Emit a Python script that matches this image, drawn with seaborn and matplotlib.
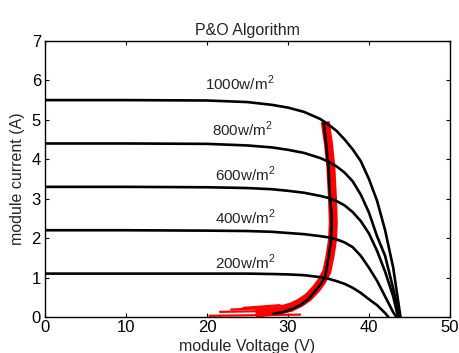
import matplotlib
matplotlib.use("Agg")
import matplotlib.pyplot as plt
import seaborn as sns

# ---- data ----
v1000 = [0, 10, 20, 25, 28, 30, 32, 34, 35, 36, 37, 38, 39, 40, 41, 42, 43, 43.9]
i1000 = [5.50, 5.50, 5.49, 5.45, 5.38, 5.31, 5.20, 5.02, 4.88, 4.72, 4.50, 4.25, 3.95, 3.50, 2.95, 2.20, 1.25, 0.0]
v800 = [0, 10, 20, 25, 28, 30, 32, 34, 35, 36, 37, 38, 39, 40, 41, 42, 43, 43.8]
i800 = [4.40, 4.40, 4.39, 4.35, 4.30, 4.24, 4.16, 4.03, 3.94, 3.82, 3.66, 3.44, 3.10, 2.65, 2.05, 1.55, 0.72, 0.0]
v600 = [0, 10, 20, 25, 28, 30, 32, 34, 35, 36, 37, 38, 39, 40, 41, 42, 43, 43.6]
i600 = [3.30, 3.30, 3.29, 3.27, 3.24, 3.20, 3.15, 3.07, 3.02, 2.94, 2.83, 2.66, 2.43, 2.12, 1.68, 1.15, 0.52, 0.0]
v400 = [0, 10, 20, 25, 28, 30, 32, 34, 35, 36, 37, 38, 39, 40, 41, 42, 43, 43.4]
i400 = [2.20, 2.20, 2.19, 2.18, 2.16, 2.13, 2.10, 2.05, 2.02, 1.97, 1.89, 1.77, 1.55, 1.25, 0.92, 0.52, 0.12, 0.0]
v200 = [0, 10, 20, 25, 28, 30, 32, 34, 35, 36, 37, 38, 39, 40, 41, 42, 42.4]
i200 = [1.10, 1.10, 1.10, 1.10, 1.09, 1.08, 1.06, 1.01, 0.97, 0.91, 0.84, 0.74, 0.61, 0.45, 0.30, 0.10, 0.0]

# maximum power point locus (black)
mpp_v = [28.2, 29.5, 30.5, 31.5, 32.5, 33.5, 34.1, 34.6, 35.0, 35.3, 35.4, 35.4, 35.2, 35.0, 34.7, 34.4]
mpp_i = [0.08, 0.13, 0.20, 0.30, 0.45, 0.69, 0.85, 1.02, 1.50, 1.90, 2.30, 2.60, 3.00, 3.80, 4.40, 4.96]
# P&O tracking trajectory (red), main oscillation band
po_v = [26.0, 28.0, 29.5, 30.5, 31.5, 32.5, 33.5, 34.2, 34.8, 35.2, 35.5, 35.6, 35.5, 35.3, 35.0, 34.6]
po_i = [0.10, 0.14, 0.20, 0.26, 0.36, 0.50, 0.72, 0.92, 1.15, 1.55, 1.95, 2.40, 3.00, 3.80, 4.40, 4.95]
# oscillation streaks of the P&O trajectory near zero current
tail_v = [[20.3, 31.5], [21.6, 30.5], [23.0, 29.5], [24.5, 29.0]]
tail_i = [[0.03, 0.06], [0.13, 0.16], [0.19, 0.24], [0.23, 0.30]]

labels = ["1000w/m$^2$", "800w/m$^2$", "600w/m$^2$", "400w/m$^2$", "200w/m$^2$"]
label_v = [19.8, 20.6, 21.0, 21.0, 21.0]
label_i = [5.92, 4.77, 3.62, 2.52, 1.38]

xticks = [0, 10, 20, 30, 40, 50]
yticks = [0, 1, 2, 3, 4, 5, 6, 7]

# ---- plot ----
sns.set_style("white")
plt.rcParams["font.family"] = ["Liberation Sans", "DejaVu Sans"]
plt.rcParams["mathtext.fontset"] = "custom"
plt.rcParams["mathtext.rm"] = "Liberation Sans"

fig = plt.figure(figsize=(4.6, 3.53), dpi=100)
ax = fig.add_axes([0.098, 0.102, 0.880, 0.782])

# red P&O trajectory
for tv, ti in zip(tail_v, tail_i):
    sns.lineplot(x=tv, y=ti, sort=False, ax=ax, color="#ff0000", linewidth=1.6, estimator=None)
sns.lineplot(x=po_v, y=po_i, sort=False, ax=ax, color="#ff0000", linewidth=6.5, estimator=None)
ax.lines[-1].set_solid_capstyle("butt")

for v, i in [(v1000, i1000), (v800, i800), (v600, i600), (v400, i400), (v200, i200)]:
    sns.lineplot(x=v, y=i, sort=False, ax=ax, color="black", linewidth=1.9, estimator=None)

sns.lineplot(x=mpp_v, y=mpp_i, sort=False, ax=ax, color="black", linewidth=1.9, estimator=None)

for t, x, y in zip(labels, label_v, label_i):
    ax.text(x, y, t, fontsize=11, ha="left", va="center")

ax.set_xlim(0, 50)
ax.set_ylim(0, 7)
ax.set_xticks(xticks)
ax.set_yticks(yticks)
ax.tick_params(direction="in", length=3, width=0.8, bottom=True, left=True, top=True, right=True,
               labelsize=12, colors="black")
ax.tick_params(axis="x", pad=2)
ax.tick_params(axis="y", pad=3)
for s in ax.spines.values():
    s.set_color("black")
    s.set_linewidth(1.0)
ax.set_xlabel("module Voltage (V)", fontsize=11.5, labelpad=3)
ax.set_ylabel("module current (A)", fontsize=11.5, labelpad=5)
ax.set_title("P&O Algorithm", fontsize=11.5, pad=4)

fig.savefig("out.png", dpi=100)
